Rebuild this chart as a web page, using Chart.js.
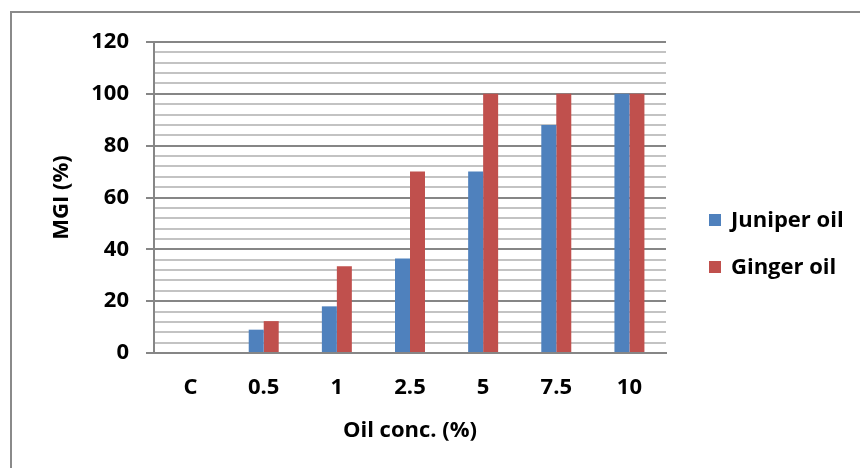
<!DOCTYPE html>
<html>
<head>
<meta charset="utf-8">
<script src="https://cdn.jsdelivr.net/npm/chart.js@4.4.0/dist/chart.umd.min.js"></script>
<style>
  html, body { margin: 0; padding: 0; background: #fff; }
  #wrap { position: relative; width: 860px; height: 468px; overflow: hidden; }
  #frame { position: absolute; left: 10px; top: 11px; width: 900px; height: 500px;
           border-left: 2px solid #8a8a8a; border-top: 2px solid #8a8a8a; }
  #chart { position: absolute; left: 0; top: 0; }
  .legend { position: absolute; left: 709px; font: bold 22px "Open Sans", sans-serif; color: #000; }
  .legend span.box { display: inline-block; width: 12px; height: 12px; margin-right: 10px; vertical-align: 1px; }
</style>
</head>
<body>
<div id="wrap">
  <div id="frame"></div>
  <canvas id="chart" width="860" height="468"></canvas>
  <div class="legend" id="legend"></div>
</div>
<script>
// Chart data
const categories = ["C", "0.5", "1", "2.5", "5", "7.5", "10"];
const juniperOil = [0, 9, 18, 36.5, 70, 88, 100];
const gingerOil = [0, 12.3, 33.5, 70, 100, 100, 100];
const seriesNames = ["Juniper oil", "Ginger oil"];
const seriesColors = ["#4f81bd", "#c0504d"];

const font = { family: "'Open Sans', sans-serif", size: 22, weight: "bold" };
const majorColor = "#868686";
const minorColor = "#c3c3c3";

const ctx = document.getElementById("chart").getContext("2d");

new Chart(ctx, {
  type: "bar",
  data: {
    labels: categories,
    datasets: [
      { label: seriesNames[0], data: juniperOil, backgroundColor: seriesColors[0] },
      { label: seriesNames[1], data: gingerOil, backgroundColor: seriesColors[1] }
    ]
  },
  options: {
    responsive: false,
    animation: false,
    layout: { padding: { left: 45, top: 42, right: 194, bottom: 20 } },
    datasets: { bar: { categoryPercentage: 0.41, barPercentage: 1 } },
    plugins: {
      legend: { display: false },
      tooltip: { enabled: false }
    },
    scales: {
      x: {
        grid: { display: false, drawTicks: false },
        border: { color: majorColor, width: 2 },
        ticks: { color: "#000", font: font, padding: 22 },
        title: { display: true, text: "Oil conc. (%)", color: "#000", font: font },
        afterFit: (scale) => { scale.height = 95; }
      },
      y: {
        min: 0,
        max: 120,
        grid: {
          color: (c) => (c.tick && c.tick.value % 20 === 0 ? majorColor : minorColor),
          tickColor: (c) => (c.tick && c.tick.value % 20 === 0 ? majorColor : "rgba(0,0,0,0)"),
          lineWidth: 2,
          tickWidth: 2,
          tickLength: 8
        },
        border: { color: majorColor, width: 2 },
        ticks: {
          stepSize: 4,
          autoSkip: false,
          color: "#000",
          font: font,
          padding: 17,
          callback: (v) => (v % 20 === 0 ? v : "")
        },
        title: { display: true, text: "MGI (%)", color: "#000", font: font },
        afterFit: (scale) => { scale.width = 109; }
      }
    }
  }
});

// Legend on the right
const legend = document.getElementById("legend");
seriesNames.forEach((name, i) => {
  let item = document.createElement("div");
  item.style.position = "absolute";
  item.style.top = (203 + i * 47) + "px";
  item.style.whiteSpace = "nowrap";
  item.innerHTML = `<span class="box" style="background:${seriesColors[i]}"></span>${name}`;
  legend.appendChild(item);
});
legend.style.top = "0px";
</script>
</body>
</html>
